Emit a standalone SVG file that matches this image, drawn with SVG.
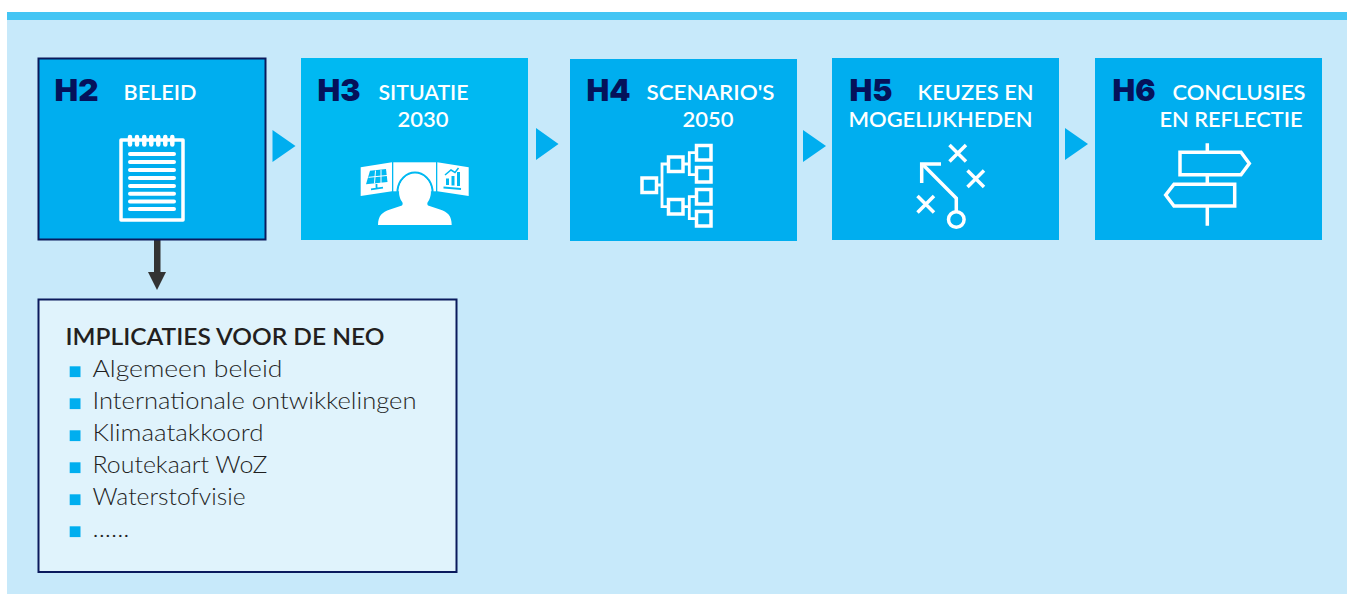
<svg xmlns="http://www.w3.org/2000/svg" width="1347" height="594" viewBox="0 0 1347 594">
<style>
.box{fill:#00aeef}
.tri{fill:#00aeef}
.h{font-family:Inter,"Liberation Sans",sans-serif;font-weight:900;font-size:30.5px;fill:#05125a}
.t{font-family:Lato,"Liberation Sans",sans-serif;font-weight:600;font-size:21.5px;fill:#fff}
.ico{fill:none;stroke:#fff;stroke-width:3.500}
.li{font-family:Lato,"Liberation Sans",sans-serif;font-weight:300;font-size:24px;fill:#1f1f1f}
.b{fill:#00aeef}
</style>
<rect x="0" y="0" width="1347" height="594" fill="#fff"/>
<rect x="7" y="12" width="1340" height="582" fill="#c7e9fa"/>
<rect x="7" y="12" width="1340" height="8" fill="#44c5f4"/>

<g id="connectors">
<polygon class="tri" points="272.500,130 295.500,146 272.500,162"/>
<polygon class="tri" points="536,128 558.500,144 536,160"/>
<polygon class="tri" points="803,130 826,146 803,162"/>
<polygon class="tri" points="1065,128 1088,144 1065,160"/>
<rect x="154" y="240" width="6.500" height="32" fill="#333"/>
<polygon points="148,272 166,272 157,290" fill="#333"/>
</g>

<g id="h2">
<rect class="box" x="38.500" y="58.500" width="227" height="181" stroke="#0a1a5c" stroke-width="2"/>
<text class="h" x="54.500" y="100.500" textLength="44" lengthAdjust="spacingAndGlyphs">H2</text>
<text class="t" x="123.500" y="100" textLength="73" lengthAdjust="spacingAndGlyphs">BELEID</text>
<rect class="ico" x="121" y="140" width="62" height="80" stroke-linejoin="round"/>
<path d="M130 154H174M130 162H174M130 170H174M130 178H174M130 186H174M130 193.700H174M130 201.500H174M130 209H174" fill="none" stroke="#fff" stroke-width="4" stroke-linecap="round"/>
<path d="M130 137V144.500M137 137V144.500M144.300 137V144.500M151.300 137V144.500M158.300 137V144.500M165.300 137V144.500M172.300 137V144.500" stroke="#fff" stroke-width="4.500" stroke-linecap="round" fill="none"/>
</g>

<g id="h3">
<rect x="301" y="58" width="227" height="182" fill="#00b9f2"/>
<text class="h" x="317.500" y="100.500" textLength="43" lengthAdjust="spacingAndGlyphs">H3</text>
<text class="t" x="378.500" y="100" textLength="90" lengthAdjust="spacingAndGlyphs">SITUATIE</text>
<text class="t" x="397.500" y="127" textLength="51" lengthAdjust="spacingAndGlyphs">2030</text>
<polygon points="360.700,167.300 392,162.300 392,191.300 360.700,196" fill="#fff"/>
<polygon points="437.300,162.300 468.700,167.300 468.700,196 437.300,191.300" fill="#fff"/>
<rect x="393.300" y="162.300" width="42.700" height="29" fill="#fff"/>
<path d="M397.500 192V190A17.700 20.500 0 0 1 432.500 190V192" fill="none" stroke="#00b9f2" stroke-width="2"/>
<path d="M378 225C378 216 382 212 390 209.500L402 205.500C403 204 403 203 401.500 201C398.500 196 399 191 399.300 190A15.700 16 0 0 1 430.700 190C431 191 431.500 196 428.500 201C427 203 427 204 428 205.500L440 209.500C448 212 451.700 216 451.700 225Z" fill="#fff"/>
<polygon points="370,170.800 386,169 387.500,182 366,184.200" fill="#00b9f2"/>
<path d="M375.500 170.500L374.500 183.500M381 169.800L381 183M368.500 177.300L387 175.500" fill="none" stroke="#fff" stroke-width="1"/>
<path d="M376.500 184V188.500M371 189.300L383 187.700" fill="none" stroke="#00b9f2" stroke-width="1.800"/>
<path d="M443.500 187.500L461 189" fill="none" stroke="#00b9f2" stroke-width="2"/>
<path d="M447.500 185V178.500M453 185.500V176M458.500 186V172" fill="none" stroke="#00b9f2" stroke-width="3"/>
<path d="M445 175L451 170L455 172.500L458.500 168" fill="none" stroke="#00b9f2" stroke-width="1.500"/>
</g>

<g id="h4">
<rect class="box" x="570" y="59" width="227" height="182"/>
<text class="h" x="586.500" y="100.500" textLength="44" lengthAdjust="spacingAndGlyphs">H4</text>
<text class="t" x="646.500" y="100" textLength="128" lengthAdjust="spacingAndGlyphs">SCENARIO'S</text>
<text class="t" x="682.500" y="127" textLength="51" lengthAdjust="spacingAndGlyphs">2050</text>
<g class="ico">
<rect x="642" y="178" width="14.500" height="14.500"/>
<rect x="668.500" y="157" width="14.500" height="14.500"/>
<rect x="668.500" y="199.500" width="14.500" height="14.500"/>
<rect x="696.500" y="145.500" width="14.500" height="14.500"/>
<rect x="696.500" y="167.500" width="14.500" height="14.500"/>
<rect x="696.500" y="189.500" width="14.500" height="14.500"/>
<rect x="696.500" y="211.500" width="14.500" height="14.500"/>
<path d="M656.500 185H662M668.500 164H662V206.700H668.500M683 164H689.300M696.500 152.700H689.300V174.700H696.500M683 206.700H689.300M696.500 196.700H689.300V218.700H696.500" stroke-width="2.800"/>
</g>
</g>

<g id="h5">
<rect class="box" x="832" y="58" width="227" height="182"/>
<text class="h" x="849.500" y="100.500" textLength="43" lengthAdjust="spacingAndGlyphs">H5</text>
<text class="t" x="917.500" y="100" textLength="116" lengthAdjust="spacingAndGlyphs">KEUZES EN</text>
<text class="t" x="848.500" y="127" textLength="184" lengthAdjust="spacingAndGlyphs">MOGELIJKHEDEN</text>
<g class="ico" stroke-width="4">
<path d="M949.500 145L966 161.500M966 145L949.500 161.500"/>
<path d="M967.500 170.500L984 187M984 170.500L967.500 187"/>
<path d="M917.500 196L934 212.500M934 196L917.500 212.500"/>
<circle cx="956.300" cy="219.500" r="7.800"/>
<path d="M956.300 211.500V198.300L923 164.700"/>
<path d="M941 164H921.700V183"/>
</g>
</g>

<g id="h6">
<rect class="box" x="1095" y="58" width="227" height="182"/>
<text class="h" x="1112.500" y="100.500" textLength="43" lengthAdjust="spacingAndGlyphs">H6</text>
<text class="t" x="1172.500" y="100" textLength="133" lengthAdjust="spacingAndGlyphs">CONCLUSIES</text>
<text class="t" x="1159.500" y="127" textLength="143" lengthAdjust="spacingAndGlyphs">EN REFLECTIE</text>
<g class="ico" stroke-width="3">
<path d="M1180 152.300H1241L1249.300 163.500L1241 174.700H1180Z"/>
<path d="M1234.700 184.300H1174L1165.700 195L1174 206H1234.700Z"/>
<path d="M1207.300 143.300V152.300M1207.300 174.700V184.300M1207.300 206V225.700"/>
</g>
</g>

<g id="implicaties">
<rect x="38.500" y="299.500" width="418" height="272.500" fill="#e0f3fc" stroke="#0a1a5c" stroke-width="2"/>
<text x="65.500" y="344.700" font-family="Lato,'Liberation Sans',sans-serif" font-weight="600" font-size="23.500" fill="#231f20" textLength="319" lengthAdjust="spacingAndGlyphs">IMPLICATIES VOOR DE NEO</text>
<rect class="b" x="69.700" y="366.300" width="10.800" height="10.800"/>
<rect class="b" x="69.700" y="398.300" width="10.800" height="10.800"/>
<rect class="b" x="69.700" y="430.300" width="10.800" height="10.800"/>
<rect class="b" x="69.700" y="462.300" width="10.800" height="10.800"/>
<rect class="b" x="69.700" y="494.300" width="10.800" height="10.800"/>
<rect class="b" x="69.700" y="526.300" width="10.800" height="10.800"/>
<text class="li" x="92.500" y="377.300" textLength="190" lengthAdjust="spacingAndGlyphs">Algemeen beleid</text>
<text class="li" x="92.500" y="409" textLength="324" lengthAdjust="spacingAndGlyphs">Internationale ontwikkelingen</text>
<text class="li" x="92.500" y="441" textLength="171" lengthAdjust="spacingAndGlyphs">Klimaatakkoord</text>
<text class="li" x="92.500" y="473" textLength="175" lengthAdjust="spacingAndGlyphs">Routekaart WoZ</text>
<text class="li" x="92.500" y="505" textLength="153" lengthAdjust="spacingAndGlyphs">Waterstofvisie</text>
<text class="li" x="92.500" y="537" textLength="37" lengthAdjust="spacingAndGlyphs">......</text>
</g>
</svg>
